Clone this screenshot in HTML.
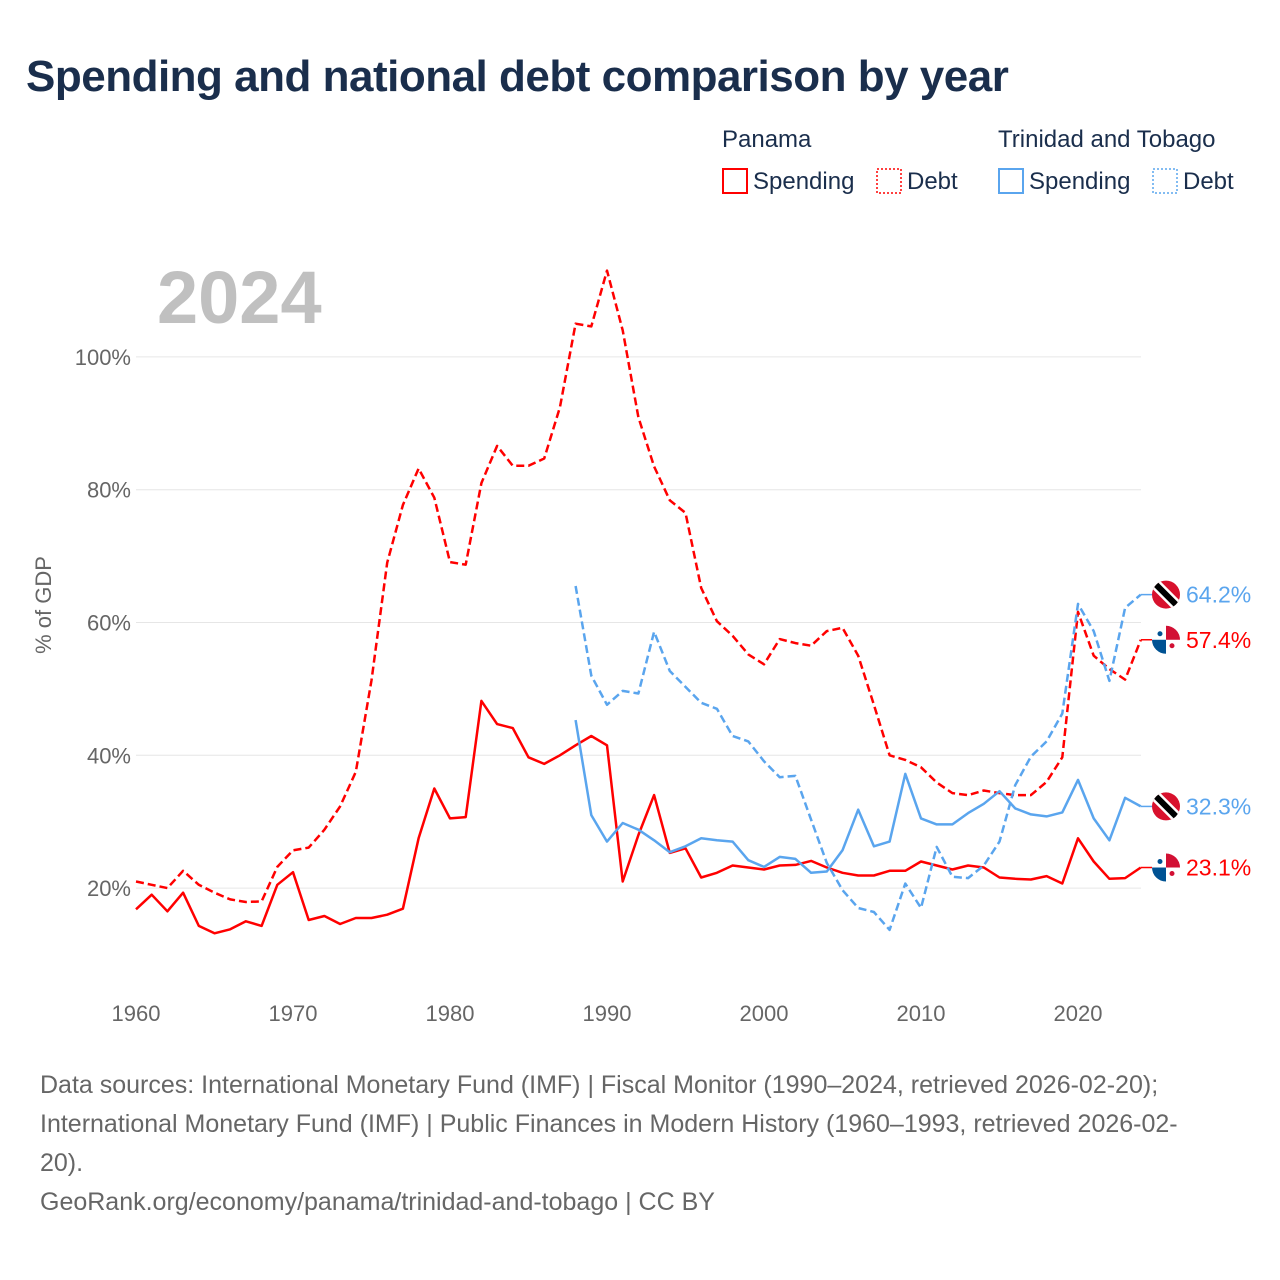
<!DOCTYPE html>
<html><head><meta charset="utf-8"><style>
body{margin:0;background:#fff;font-family:"Liberation Sans",sans-serif;}
#wrap{position:relative;width:1280px;height:1280px;overflow:hidden;}
h1{position:absolute;left:26px;top:52px;margin:0;font-size:44px;font-weight:bold;color:#1a2e4c;letter-spacing:-0.5px;}
.src{position:absolute;left:40px;top:1066px;width:1220px;font-size:25px;line-height:39px;color:#666;}
</style></head><body>
<div id="wrap">
<h1>Spending and national debt comparison by year</h1>
<svg id="chart" width="1280" height="1280" style="position:absolute;left:0;top:0"></svg>
<div class="src">Data sources: International Monetary Fund (IMF) | Fiscal Monitor (1990–2024, retrieved 2026-02-20);<br>International Monetary Fund (IMF) | Public Finances in Modern History (1960–1993, retrieved 2026-02-<br>20).<br>GeoRank.org/economy/panama/trinidad-and-tobago | CC BY</div>
</div>
<script>
const panSpendYears0 = 1960;
const panSpending = [16.8,19,16.5,19.3,14.3,13.2,13.8,15,14.3,20.5,22.4,15.2,15.8,14.6,15.5,15.5,16,16.9,27.5,35,30.5,30.7,48.2,44.7,44.1,39.7,38.7,40,41.5,42.9,41.5,21,28,34,25.3,26,21.6,22.3,23.4,23.1,22.8,23.4,23.5,24.1,23.1,22.3,21.9,21.9,22.6,22.6,24,23.4,22.8,23.4,23.1,21.6,21.4,21.3,21.8,20.7,27.5,24,21.4,21.5,23.1];
const panDebt = [21,20.5,20,22.6,20.5,19.3,18.3,17.9,18,23.2,25.7,26.1,28.8,32.3,37.5,51.3,69,77.7,83.2,78.8,69.1,68.7,81,86.6,83.6,83.6,84.7,92.4,105,104.6,113,104,90.9,83.5,78.4,76.5,65.2,60.2,58,55.2,53.7,57.5,56.9,56.5,58.7,59.2,55,47.6,40,39.3,38.2,35.9,34.3,34,34.7,34.3,34,34,36,39.7,61.6,55,53,51.4,57.4];
const ttStartYear = 1988;
const ttSpending = [45.3,31,27,29.8,28.8,27.2,25.4,26.3,27.5,27.2,27,24.2,23.2,24.7,24.4,22.3,22.5,25.7,31.8,26.3,27,37.2,30.5,29.6,29.6,31.3,32.7,34.6,32,31.1,30.8,31.4,36.3,30.5,27.2,33.6,32.3];
const ttDebt = [65.5,52,47.6,49.7,49.3,58.6,52.7,50.3,47.9,47,42.9,42.1,39.1,36.7,36.9,30.3,23.8,19.7,17,16.4,13.7,20.7,17,26.2,21.7,21.5,23.4,27,35.5,39.8,42.1,46.3,62.8,58.7,51.2,62.2,64.2];
const xTicks = [1960,1970,1980,1990,2000,2010,2020];
const yTicks = [20,40,60,80,100];

const NS="http://www.w3.org/2000/svg";
const svg=document.getElementById('chart');
const X=y=>136+(y-1960)*15.7;
const Y=v=>1020.9-v*6.64;
function mk(t,a,p){const e=document.createElementNS(NS,t);for(const k in a)e.setAttribute(k,a[k]);(p||svg).appendChild(e);return e;}

yTicks.forEach(v=>{
  const l=mk('line',{x1:136,x2:1141,y1:Y(v),y2:Y(v),stroke:'#e6e6e6','stroke-width':1});
  
  
  const t=mk('text',{x:131,y:Y(v)+8,'text-anchor':'end','font-size':22,fill:'#666'});
  t.textContent=v+'%';
  
  
});
xTicks.forEach(y=>{
  const t=mk('text',{x:X(y),y:1021,'text-anchor':'middle','font-size':22,fill:'#666'});
  t.textContent=y;
  
  
});
const yt=mk('text',{x:0,y:0,transform:'translate(51,605) rotate(-90)','text-anchor':'middle','font-size':22,fill:'#666'});
yt.textContent='% of GDP';


const yr=mk('text',{x:157,y:323,'font-size':74,'font-weight':'bold',fill:'#c0c0c0'});
yr.textContent='2024';



function series(arr,start,color,dash,name){
  const d=arr.map((v,i)=>(i?'L':'M')+X(start+i).toFixed(1)+','+Y(v).toFixed(1)).join('');
  const p=mk('path',{d:d,fill:'none',stroke:color,'stroke-width':2.5,'stroke-linejoin':'round'});
  if(dash)p.setAttribute('stroke-dasharray','8,4');
  
  
}
series(panDebt,1960,'#ff0000',true,'panama-debt-line');
series(panSpending,1960,'#ff0000',false,'panama-spending-line');
series(ttDebt,ttStartYear,'#5aa5ee',true,'tt-debt-line');
series(ttSpending,ttStartYear,'#5aa5ee',false,'tt-spending-line');

function flag(cx,cy,type,name){
  const g=mk('g',{});
  
  
  const id='c'+Math.round(cy);
  const cp=mk('clipPath',{id:id},g);mk('circle',{cx:cx,cy:cy,r:14},cp);
  const gg=mk('g',{'clip-path':'url(#'+id+')'},g);
  if(type==='tt'){
    mk('rect',{x:cx-15,y:cy-15,width:30,height:30,fill:'#d8112d'},gg);
    mk('line',{x1:cx-15,y1:cy-15,x2:cx+15,y2:cy+15,stroke:'#fff','stroke-width':11},gg);
    mk('line',{x1:cx-15,y1:cy-15,x2:cx+15,y2:cy+15,stroke:'#000','stroke-width':6},gg);
  } else {
    mk('rect',{x:cx-15,y:cy-15,width:30,height:30,fill:'#fff'},gg);
    mk('rect',{x:cx,y:cy-15,width:15,height:15,fill:'#d21034'},gg);
    mk('rect',{x:cx-15,y:cy,width:15,height:15,fill:'#005293'},gg);
    mk('circle',{cx:cx-6,cy:cy-6,r:2.5,fill:'#005293'},gg);
    mk('circle',{cx:cx+6,cy:cy+6,r:2.5,fill:'#d21034'},gg);
  }
}
function endLabel(v,type,color,name){
  const y=Y(v);
  mk('line',{x1:1141,x2:1152,y1:y,y2:y,stroke:color,'stroke-width':1.5});
  flag(1166,y,type,name+'-flag');
  const t=mk('text',{x:1186,y:y+8,'font-size':23,fill:color});
  t.textContent=v.toFixed(1)+'%';
  
  
}
endLabel(ttDebt[ttDebt.length-1],'tt','#5aa5ee','tt-debt-end');
endLabel(panDebt[panDebt.length-1],'pa','#ff0000','panama-debt-end');
endLabel(ttSpending[ttSpending.length-1],'tt','#5aa5ee','tt-spending-end');
endLabel(panSpending[panSpending.length-1],'pa','#ff0000','panama-spending-end');

function legendHead(x,txt,name){const t=mk('text',{x:x,y:147,'font-size':24,fill:'#1a2e4c'});t.textContent=txt;}
function legendItem(x,color,dotted,txt,name){
  const g=mk('g',{});
  
  
  const r=mk('rect',{x:x+1,y:169,width:24,height:24,fill:'none',stroke:color,'stroke-width':dotted?1.5:2},g);
  if(dotted)r.setAttribute('stroke-dasharray','2,2');
  const t=mk('text',{x:x+31,y:189,'font-size':24,fill:'#1a2e4c'},g);t.textContent=txt;
}
legendHead(722,'Panama','legend-panama-heading');
legendHead(998,'Trinidad and Tobago','legend-tt-heading');
legendItem(722,'#ff0000',false,'Spending','legend-panama-spending');
legendItem(876,'#ff0000',true,'Debt','legend-panama-debt');
legendItem(998,'#5aa5ee',false,'Spending','legend-tt-spending');
legendItem(1152,'#5aa5ee',true,'Debt','legend-tt-debt');
</script>
</body></html>
